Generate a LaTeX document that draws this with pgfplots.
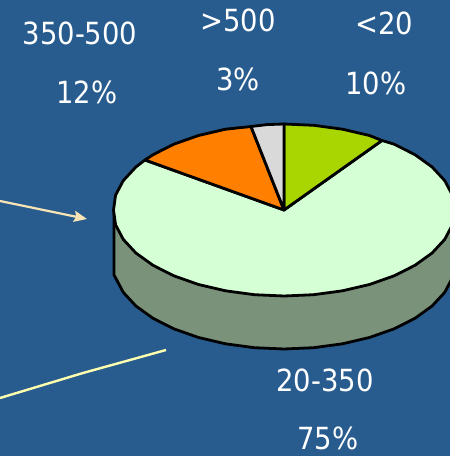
\documentclass[border=0pt]{standalone}
\usepackage{fontspec}
\setmainfont{DejaVu Sans Condensed}
\usepackage{pgfplots}
\pgfplotsset{compat=1.18}
\usetikzlibrary{arrows.meta}
\definecolor{bg}{HTML}{285C8E}
\definecolor{lime}{HTML}{A9D600}
\definecolor{orng}{HTML}{FF7F00}
\definecolor{lgray}{HTML}{D9D9D9}
\definecolor{pale}{HTML}{D5FFD5}
\definecolor{sidec}{HTML}{7A927A}
\definecolor{arrowc}{HTML}{F8E4B4}
\definecolor{linec}{HTML}{FFFFB0}
\tikzset{lab/.style={white, inner sep=0pt, font=\fontsize{30.6}{31}\selectfont}}
\begin{document}
\begin{tikzpicture}
\begin{axis}[
    scale only axis,
    width=450bp, height=456bp,
    xmin=0, xmax=450, ymin=0, ymax=456,
    y dir=reverse,
    hide axis,
    clip=true,
]
% background
\addplot[fill=bg, draw=none] coordinates {(0,0) (450,0) (450,456) (0,456)} -- cycle;

% side of the 75% slice
\addplot[fill=sidec, draw=black, line width=2.8bp, line join=round] coordinates {
    (114,210) (114,275) (115.6,277.9) (123.3,292.4) (135.9,306) (153,318.3)
    (174.1,328.9) (198.5,337.5) (225.5,343.8) (254.3,347.7) (284,349)
    (313.7,347.7) (342.5,343.8) (369.5,337.5) (393.9,328.9) (415,318.3)
    (432.1,306) (444.7,292.4) (452.4,277.9) (455,263) (455,210)
} -- cycle;

% 20-350, 75%
\addplot[fill=pale, draw=black, line width=2.8bp, line join=round] coordinates {
    (284,210) (145,160) (135.9,167) (123.3,180.6) (115.6,195.1) (113.5,210)
    (115.6,224.9) (123.3,239.4) (135.9,253) (153,265.3) (174.1,275.9)
    (198.5,284.5) (225.5,290.8) (254.3,294.7) (284,296) (313.7,294.7)
    (342.5,290.8) (369.5,284.5) (393.9,275.9) (415,265.3) (432.1,253)
    (444.7,239.4) (452.4,224.9) (455,210) (452.4,195.1) (444.7,180.6)
    (432.1,167) (415,154.7) (393.9,144.1) (382,140.5)
} -- cycle;

% <20, 10%
\addplot[fill=lime, draw=black, line width=2.8bp, line join=round] coordinates {
    (284,210) (284,124) (313.7,125.3) (342.5,129.2) (369.5,135.5) (382,140.5)
} -- cycle;

% 350-500, 12%
\addplot[fill=orng, draw=black, line width=2.8bp, line join=round] coordinates {
    (284,210) (251,126.5) (225.5,129.2) (198.5,135.5) (174.1,144.1) (153,154.7) (145,160)
} -- cycle;

% >500, 3%
\addplot[fill=lgray, draw=black, line width=2.8bp, line join=round] coordinates {
    (284,210) (284,124) (267,124.6) (251,126.5)
} -- cycle;

% pointers
\addplot[draw=arrowc, line width=2.2bp,
    -{Stealth[length=13bp,width=11bp,inset=2bp]}] coordinates {(0,201) (87,219)};
\addplot[draw=linec, line width=2.4bp] coordinates {(0,398) (83,373) (166,350)};

\node[lab] at (axis cs:80,33) {350-500};
\node[lab] at (axis cs:87,92) {12\%};
\node[lab] at (axis cs:238,20) {>500};
\node[lab] at (axis cs:238,79) {3\%};
\node[lab] at (axis cs:384,23) {<20};
\node[lab] at (axis cs:376,83) {10\%};
\node[lab] at (axis cs:325,380) {20-350};
\node[lab] at (axis cs:328,438) {75\%};
\end{axis}
\pgfresetboundingbox
\path[use as bounding box] (0,0) rectangle (450bp,456bp);
\end{tikzpicture}
\end{document}
